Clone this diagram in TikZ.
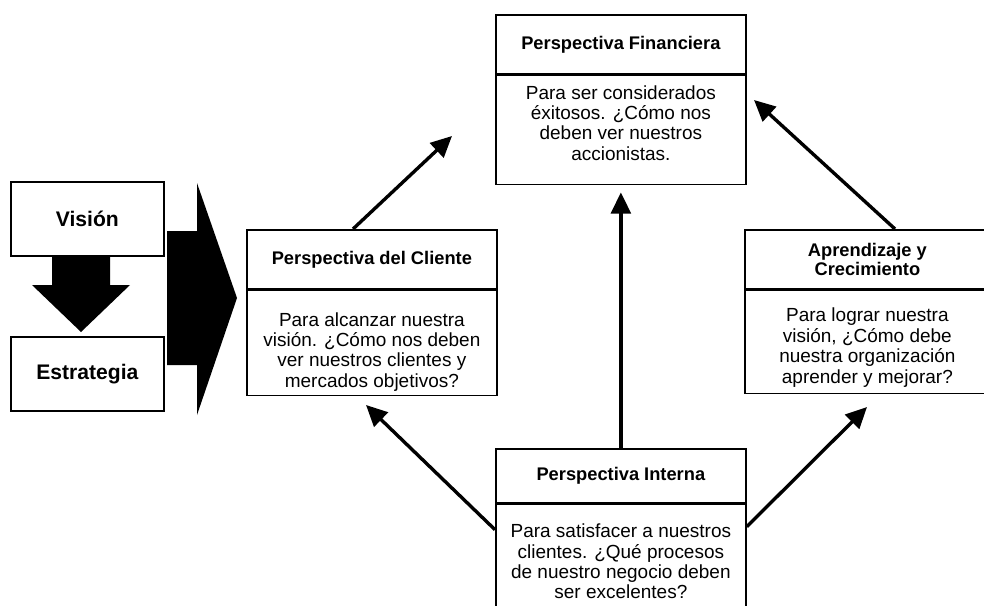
\documentclass[tikz,border=0pt]{standalone}
\usepackage{fontspec}
\setmainfont{Liberation Sans}
\usetikzlibrary{calc,arrows.meta,positioning}
\tikzset{
    headbox/.style={draw,line width=1.2pt,minimum width=6.25cm,minimum height=1.475cm,inner sep=0pt,align=center,font=\bfseries\fontsize{13}{13.5}\selectfont},
    bodybox/.style={draw,line width=1.2pt,minimum width=6.25cm,inner sep=0pt},
    bodytext/.style={inner sep=0pt,align=center,font=\fontsize{13.5}{14.5}\selectfont},
    stepbox/.style={draw,line width=1.2pt,minimum width=3.825cm,minimum height=1.85cm,font=\bfseries\fontsize{15}{18}\selectfont},
    blockarrow/.style={fill=black},
    flow/.style={->,>={Triangle[length=15pt,width=14pt]},line width=2.4pt}
}
\begin{document}
\begin{tikzpicture}[x=0.025cm,y=-0.025cm]
\clip (0,0) rectangle (984,605);
% vision y estrategia
\node[stepbox,anchor=north west] (vision) at (10,181) {Visión};
\node[stepbox,anchor=north west] (estrategia) at (10,336) {Estrategia};
\fill[blockarrow] (52,257)--(110,257)--(110,285)--(130,285)--(81,332)--(32,285)--(52,285)--cycle;
\fill[blockarrow] (167,231)--(197,231)--(197,183)--(237,298)--(197,415)--(197,365)--(167,365)--cycle;
% perspectivas
\node[headbox,anchor=north west] (fin-h) at (495,14) {Perspectiva Financiera};
\node[bodybox,minimum height=2.725cm,below=0pt of fin-h,
  label={[bodytext,yshift=0.18cm]center:Para ser considerados\\éxitosos. ¿Cómo nos\\deben ver nuestros\\accionistas.}] (fin-b) {};
\node[headbox,anchor=north west] (cli-h) at (246,229) {Perspectiva del Cliente};
\node[bodybox,minimum height=2.625cm,below=0pt of cli-h,
  label={[bodytext,yshift=-0.22cm]center:Para alcanzar nuestra\\visión. ¿Cómo nos deben\\ver nuestros clientes y\\mercados objetivos?}] (cli-b) {};
\node[headbox,minimum width=6.125cm,anchor=north west] (apr-h) at (744,229) {Aprendizaje y\\Crecimiento};
\node[bodybox,minimum width=6.125cm,minimum height=2.575cm,below=0pt of apr-h,
  label={[bodytext,yshift=-0.14cm]center:Para lograr nuestra\\visión, ¿Cómo debe\\nuestra organización\\aprender y mejorar?}] (apr-b) {};
\node[headbox,minimum height=1.35cm,anchor=north west] (int-h) at (495,448) {Perspectiva Interna};
\node[bodybox,minimum height=2.75cm,below=0pt of int-h,
  label={[bodytext,yshift=-0.05cm]center:Para satisfacer a nuestros\\clientes. ¿Qué procesos\\de nuestro negocio deben\\ser excelentes?}] (int-b) {};
% flechas
\coordinate (fin-l) at (452,136);
\coordinate (fin-r) at (754,100);
\coordinate (cli-t) at (366,405);
\coordinate (apr-t) at (867,407);
\draw[flow] ($(cli-h.north west)+(107,0)$) -- (fin-l);
\draw[flow] ($(apr-h.north west)+(151,0)$) -- (fin-r);
\draw[flow] (int-h.north) -- ($(fin-b.south)+(0,7)$);
\draw[flow] ($(int-b.north west)+(0,26)$) -- (cli-t);
\draw[flow] ($(int-b.north east)+(0,23)$) -- (apr-t);
\end{tikzpicture}
\end{document}
